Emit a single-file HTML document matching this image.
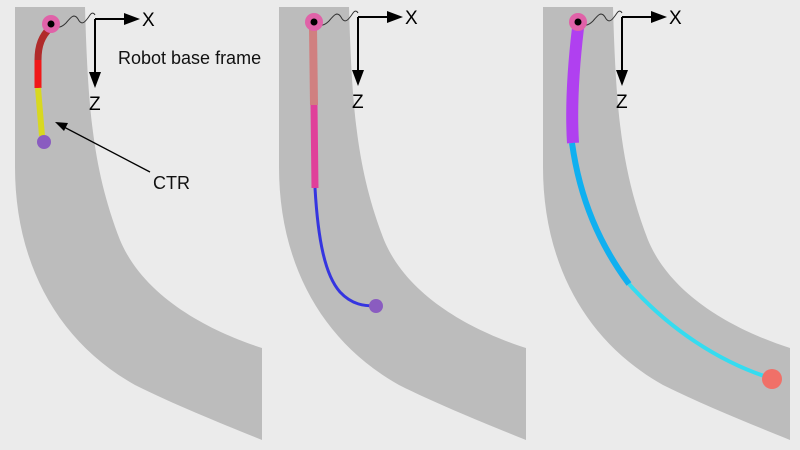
<!DOCTYPE html>
<html><head><meta charset="utf-8"><style>
html,body{margin:0;padding:0;background:#ebebeb;}
svg{display:block;font-family:"Liberation Sans","DejaVu Sans",sans-serif;}
</style></head><body>
<svg width="800" height="450" viewBox="0 0 800 450">
<defs>
<path id="panel" d="M0,7 L70,7 C73,110 78,170 105,240 C130,300 200,333 247,348 L247,440 C210,425 160,405 120,385 C40,340 0,260 0,167 Z" fill="#bcbcbc"/>
<g id="frame">
<path d="M36,23 c6,4 10,2 14,-2 c5,-6 8,-10 12,-4 c4,8 8,2 12,-4 c2,-3 4,-2 5,0" fill="none" stroke="#333" stroke-width="1"/>
<line x1="79" y1="17" x2="112" y2="17" stroke="#000" stroke-width="2"/>
<polygon points="108,11 124,17 108,23" fill="#000"/>
<line x1="79" y1="17" x2="79" y2="74" stroke="#000" stroke-width="2"/>
<polygon points="73,70 79,86 85,70" fill="#000"/>
<text x="126" y="24" font-size="19">X</text>
<text x="73" y="108" font-size="19">Z</text>
</g>
</defs>

<g transform="translate(15,0)">
<use href="#panel"/>
<use href="#frame" transform="translate(1,2)"/>
</g>
<g transform="translate(279,0)">
<use href="#panel"/>
<use href="#frame"/>
</g>
<g transform="translate(543,0)">
<use href="#panel"/>
<use href="#frame"/>
</g>

<g>
<path d="M50,28 C42,36 38,45 38,60" fill="none" stroke="#b02a2a" stroke-width="7"/>
<path d="M38,60 L38,88" stroke="#f01818" stroke-width="7"/>
<path d="M38,88 L42,136" stroke="#d8d820" stroke-width="6"/>
<circle cx="44" cy="142" r="7" fill="#8a5cc0"/>
<circle cx="51" cy="24" r="9" fill="#e062a8"/>
<circle cx="51" cy="24" r="3.5" fill="#000"/>
</g>
<text x="118" y="64" font-size="18" fill="#111">Robot base frame</text>
<text x="153" y="189" font-size="18" fill="#111">CTR</text>
<line x1="150" y1="172" x2="64" y2="127" stroke="#000" stroke-width="1.3"/>
<polygon points="55,122 68,123 64,131" fill="#000"/>

<g>
<path d="M313,28 L314,105" stroke="#d08080" stroke-width="8"/>
<path d="M314,105 L315,188" stroke="#e0409a" stroke-width="7"/>
<path d="M315,188 C318,240 325,275 340,292 C352,305 365,306 375,306" fill="none" stroke="#3535e0" stroke-width="3"/>
<circle cx="376" cy="306" r="7" fill="#8a5cc0"/>
<circle cx="314" cy="22" r="9" fill="#e062a8"/>
<circle cx="314" cy="22" r="3.5" fill="#000"/>
</g>

<g>
<path d="M578,28 C573,70 571,110 573,143" fill="none" stroke="#b040f0" stroke-width="12"/>
<path d="M572,143 C580,200 600,245 629,284" fill="none" stroke="#10b0f0" stroke-width="6"/>
<path d="M629,284 C670,330 720,362 770,378" fill="none" stroke="#35dcf0" stroke-width="4"/>
<circle cx="772" cy="379" r="10" fill="#f07068"/>
<circle cx="578" cy="22" r="9" fill="#e062a8"/>
<circle cx="578" cy="22" r="3.5" fill="#000"/>
</g>
</svg>
</body></html>
